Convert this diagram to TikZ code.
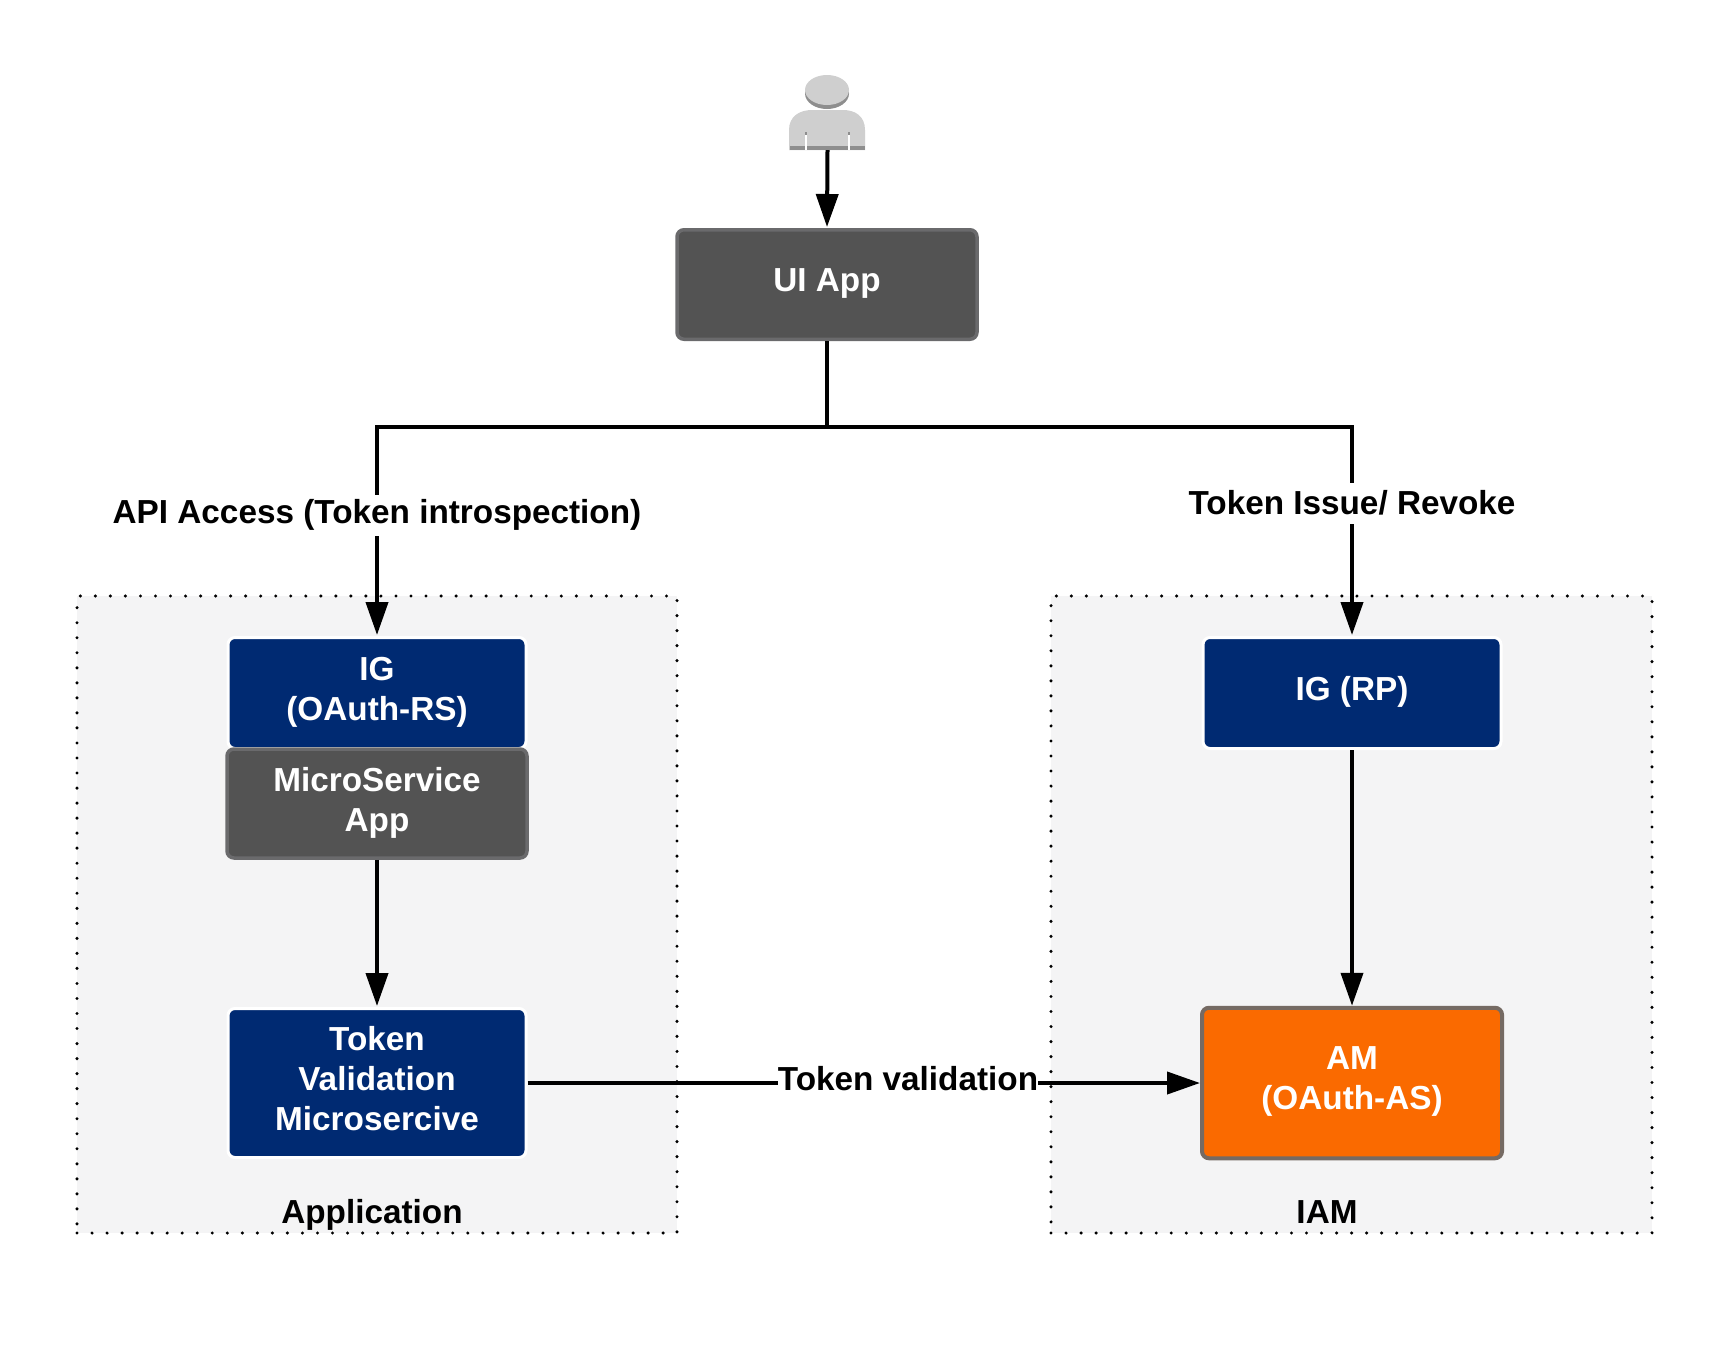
\documentclass[tikz,border=0pt]{standalone}
\usepackage{fontspec}
\setmainfont{Liberation Sans}
\usetikzlibrary{arrows.meta,positioning}
\definecolor{navy}{HTML}{002A72}
\definecolor{slate}{HTML}{535353}
\definecolor{slateedge}{HTML}{6A6A6C}
\definecolor{amber}{HTML}{FA6A00}
\definecolor{amberedge}{HTML}{756A63}
\definecolor{panel}{HTML}{F4F4F5}
\definecolor{figure}{HTML}{CFCFCF}
\definecolor{figureedge}{HTML}{8E8E8E}
\newcommand{\lift}[1]{\rule[-#1pt]{0pt}{0pt}}
\tikzset{
  x=1pt,y=-1pt,
  txt/.style={font=\fontsize{33.3}{40}\selectfont\bfseries,align=center},
  box/.style={txt,text=white,rounded corners=7pt,minimum width=#1,inner sep=0pt},
  bluebox/.style={box=298pt,fill=navy,draw=white,line width=3pt},
  greybox/.style={box=300pt,fill=slate,draw=slateedge,line width=3.5pt},
  amberbox/.style={box=300pt,fill=amber,draw=amberedge,line width=4pt,text=white},
  panelbox/.style={fill=panel,draw=black,line width=3.4pt,line cap=round,dash pattern=on 0pt off 15.03pt},
  link/.style={draw=black,line width=4pt},
  arrowlink/.style={link,-{Triangle[length=33pt,width=22pt]}},
  caption/.style={txt,text=black,inner sep=0pt},
  gapcaption/.style={caption,fill=white,minimum height=#1},
}
\begin{document}
\begin{tikzpicture}
\useasboundingbox (0,0) rectangle (1729,1350);
\fill[white] (0,0) rectangle (1729,1350);
% panels
\node[panelbox,minimum width=600pt,minimum height=637pt,inner sep=0pt] (apppanel) at (377,914.5) {};
\node[panelbox,minimum width=601pt,minimum height=637pt,inner sep=0pt] (iampanel) at (1351.5,914.5) {};
% person
\node[minimum width=76pt,minimum height=76pt,inner sep=0pt] (user) at (827.5,112) {};
\fill[figureedge] (827,93.5) ellipse (22 and 15.5);
\fill[figure] (827,90) ellipse (22 and 15);
\fill[figure] (789,150) -- (789,130) .. controls (789,116) and (800,110) .. (812,110) -- (843,110) .. controls (855,110) and (865,116) .. (865,130) -- (865,150) -- cycle;
\fill[figureedge] (789.5,146) rectangle (864.5,150);
\fill[white] (804.5,134) rectangle (806.5,150);
\fill[white] (848,134) rectangle (850,150);
\fill[figureedge] (804.5,132) rectangle (806.5,135);
\fill[figureedge] (848,132) rectangle (850,135);
% boxes
\node[greybox,minimum height=109.5pt] (ui) at (827,284.5) {UI App\lift{8.2}};
\node[bluebox,minimum height=111pt] (igrs) at (377,693) {IG\\(OAuth-RS)\lift{9.2}};
\node[greybox,minimum height=109pt] (micro) at (377,803.5) {MicroService\\App\lift{8.5}};
\node[bluebox,minimum height=149pt] (tv) at (377,1083) {Token\\Validation\\Microsercive\lift{8.8}};
\node[bluebox,minimum height=111pt] (igrp) at (1352,693) {IG (RP)\lift{9.2}};
\node[amberbox,minimum height=150.5pt] (am) at (1352,1083) {AM\\(OAuth-AS)\lift{9.2}};
% connectors
\coordinate (fork) at (827,427);
\coordinate (forkl) at (377,427);
\coordinate (forkr) at (1352,427);
\draw[arrowlink,shorten >=1pt] (user.south) -- (ui.north);
\draw[link] (ui.south) -- (fork);
\draw[arrowlink,shorten >=1pt] (fork) -- (forkl) -- (igrs.north);
\draw[arrowlink,shorten >=1pt] (fork) -- (forkr) -- (igrp.north);
\draw[arrowlink,shorten >=1pt] (micro.south) -- (tv.north);
\draw[arrowlink] (igrp.south) -- (am.north);
\draw[arrowlink] (tv.east) -- (am.west);
% labels
\node[gapcaption=41pt] (apilabel) at (377,515) {API Access (Token introspection)};
\node[gapcaption=41pt] (issuelabel) at (1352,503) {Token Issue/ Revoke};
\node[gapcaption=30pt] (tvlabel) at (908,1079) {Token validation};
\node[caption] (applabel) at (372,1214.5) {Application};
\node[caption] (iamlabel) at (1327,1212) {IAM};
\end{tikzpicture}
\end{document}
